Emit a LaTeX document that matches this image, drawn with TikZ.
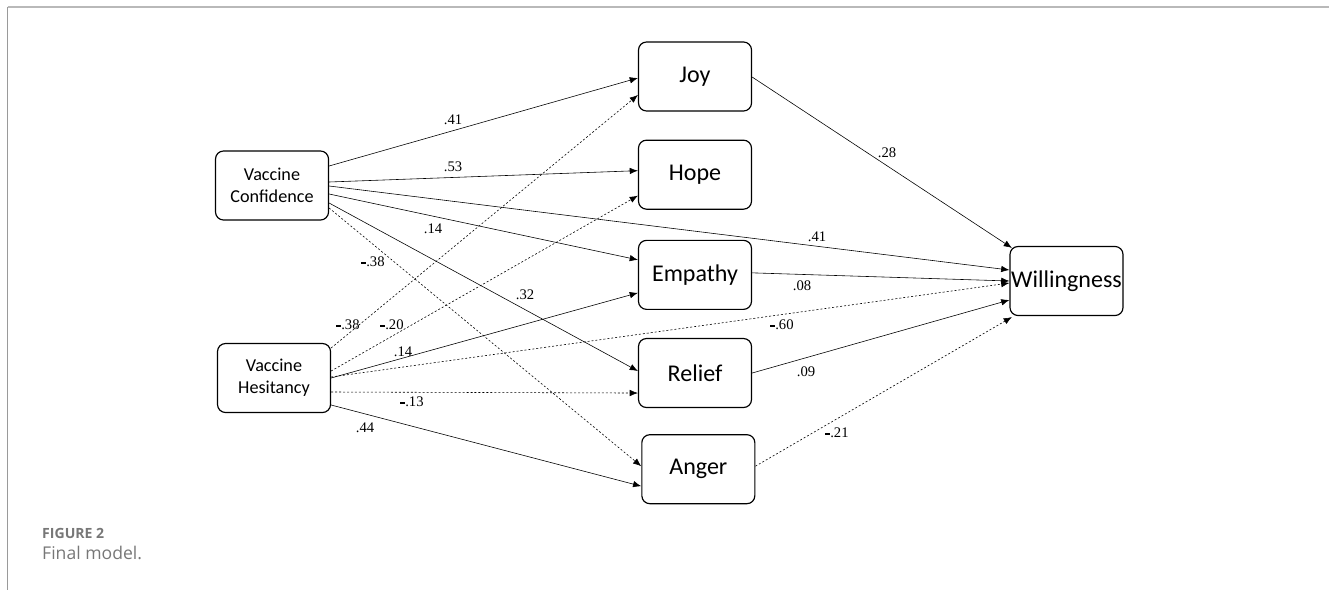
\documentclass[tikz,border=0pt]{standalone}
\usepackage{fontspec}
\setmainfont{Liberation Serif}
\newfontfamily\boxfont{Carlito}
\newfontfamily\capfont{Open Sans}
\usepackage{tikz}
\usetikzlibrary{arrows.meta}
\usetikzlibrary{positioning}
\usetikzlibrary{calc}
\definecolor{framegray}{HTML}{B9B9B9}
\definecolor{sidegray}{HTML}{9A9A9A}
\definecolor{capgray}{HTML}{777777}
\tikzstyle{latent}=[draw,rounded corners=0.24cm,line width=1pt,minimum width=3.39cm,minimum height=2.07cm,inner sep=1pt,align=center,font=\boxfont\fontsize{20.5}{24}\selectfont]
\tikzstyle{cause}=[latent,font=\boxfont\fontsize{15.5}{18.5}\selectfont]
\tikzstyle{coef}=[inner sep=0pt,font=\fontsize{12.5}{14}\selectfont]
\tikzstyle{pathsolid}=[-{Latex[length=7pt,width=5.5pt]},line width=0.5pt]
\tikzstyle{pathdash}=[pathsolid,dash pattern=on 1.7pt off 1.7pt]
\newcommand{\mns}{\rule[2.6pt]{4.2pt}{1.5pt}}

\begin{document}
\begin{tikzpicture}[x=0.03cm,y=-0.03cm]
\useasboundingbox (0,0) rectangle (1329,590);
% frame and caption
\draw [framegray,line width=1.3pt] (7.5,7) -- (1329,7);
\draw [sidegray,line width=1.3pt] (7.5,7) -- (7.5,590);
\node [anchor=base west,inner sep=0pt,text=capgray,font=\capfont\bfseries\fontsize{12}{14}\selectfont] (fig) at (42,538) {FIGURE 2};
\node [anchor=base west,inner sep=0pt,text=capgray,font=\capfont\fontsize{15}{18}\selectfont] (cap) at (42,559) {Final model.};

% predictors
\node [cause] (vc) at (272,185.5) {Vaccine\\Confidence};
\node [cause] (vh) at (274,378) {Vaccine\\Hesitancy};
% emotions
\node [latent] (joy) at (695,76.5) {Joy};
\node [latent,below=0.84cm of joy] (hope) {Hope};
\node [latent,below=0.9cm of hope] (empathy) {Empathy};
\node [latent,below=0.84cm of empathy] (relief) {Relief};
\node [latent,below=0.78cm of relief,xshift=0.1cm] (anger) {Anger};
% outcome
\node [latent] (will) at (1066.5,281) {Willingness};

% paths from confidence
\draw [pathsolid] ($(vc.east)+(0,-19.5)$) -- ($(joy.west)+(0,1.5)$);
\draw [pathsolid] ($(vc.east)+(0,-3.5)$) -- ($(hope.west)+(0,-4)$);
\draw [pathsolid] ($(vc.east)+(0,0.5)$) -- ($(will.west)+(0,-11)$);
\draw [pathsolid] ($(vc.east)+(0,8.5)$) -- ($(empathy.west)+(0,-15)$);
\draw [pathsolid] ($(vc.east)+(0,17.5)$) -- ($(relief.west)+(0,-2)$);
\draw [pathdash] ($(vc.east)+(0,22.5)$) -- ($(anger.west)+(0,-3)$);
% paths from hesitancy
\draw [pathdash] ($(vh.east)+(0,-30)$) -- ($(joy.west)+(0,18.5)$);
\draw [pathdash] ($(vh.east)+(0,-7)$) -- ($(hope.west)+(0,21)$);
\draw [pathsolid] ($(vh.east)+(0,0)$) -- ($(empathy.west)+(0,18)$);
\draw [pathdash] ($(vh.east)+(0,-1)$) -- ($(will.west)+(0,2)$);
\draw [pathdash] ($(vh.east)+(0,14)$) -- ($(relief.west)+(0,20)$);
\draw [pathsolid] ($(vh.east)+(0,27)$) -- ($(anger.west)+(0,17)$);
% paths to willingness
\draw [pathsolid] ($(joy.east)+(0,0.5)$) -- ($(will.north west)+(2.5,2)$);
\draw [pathsolid] ($(empathy.east)+(0,-2)$) -- ($(will.west)+(0,0)$);
\draw [pathsolid] ($(relief.east)+(0,0)$) -- ($(will.west)+(0,19)$);
\draw [pathdash] ($(anger.east)+(0,-3)$) -- ($(will.south west)+(2.5,1)$);

% coefficients
\node [coef] (c1) at (453,120) {.41};
\node [coef] (c2) at (453,167) {.53};
\node [coef] (c3) at (817,237) {.41};
\node [coef] (c4) at (433,229) {.14};
\node [coef] (c5) at (525,295) {.32};
\node [coef] (c6) at (373,262) {\mns.38};
\node [coef] (c7) at (348,325) {\mns.38};
\node [coef] (c8) at (392,325) {\mns.20};
\node [coef] (c9) at (403,352) {.14};
\node [coef] (c10) at (782,325) {\mns.60};
\node [coef] (c11) at (412,402) {\mns.13};
\node [coef] (c12) at (365,428) {.44};
\node [coef] (c13) at (887,153) {.28};
\node [coef] (c14) at (802,286) {.08};
\node [coef] (c15) at (806,372) {.09};
\node [coef] (c16) at (837,433) {\mns.21};
\end{tikzpicture}
\end{document}
